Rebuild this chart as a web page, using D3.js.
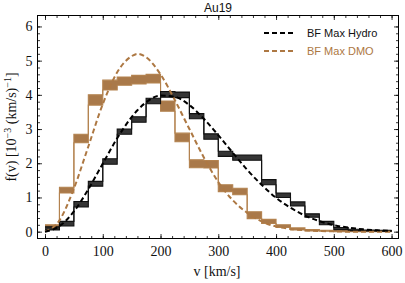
<!DOCTYPE html>
<html>
<head>
<meta charset="utf-8">
<script src="https://cdn.jsdelivr.net/npm/d3@7"></script>
<style>
  body { margin: 0; background: #fff; }
  svg { display: block; }
</style>
</head>
<body>
<div id="chart"></div>
<script>
// bin edges (km/s)
var binEdges = [0, 25, 50, 75, 100, 125, 150, 175, 200, 225, 250, 275, 300,
                325, 350, 375, 400, 425, 450, 475, 500, 525, 550, 575, 600];

// histogram bands, one value per bin, in 10^-3 (km/s)^-1
var hydroLo = [0.05, 0.17, 0.72, 1.33, 1.97, 2.85, 3.20, 3.74, 3.93, 3.92, 3.30, 2.70,
               2.20, 2.09, 2.09, 1.37, 1.00, 0.75, 0.42, 0.20, 0.06, 0.03, 0.02, 0.01];
var hydroHi = [0.14, 0.30, 0.88, 1.47, 2.13, 3.00, 3.36, 3.90, 4.10, 4.08, 3.45, 2.86,
               2.35, 2.24, 2.24, 1.52, 1.13, 0.87, 0.52, 0.30, 0.12, 0.07, 0.05, 0.04];
var dmoLo   = [0.08, 1.13, 2.60, 3.70, 4.14, 4.28, 4.32, 4.35, 3.52, 2.63, 1.87, 1.86,
               1.17, 1.08, 0.38, 0.24, 0.12, 0.05, 0.02, 0.01, 0.00, 0.00, 0.00, 0.00];
var dmoHi   = [0.20, 1.30, 2.85, 4.00, 4.43, 4.52, 4.57, 4.60, 3.82, 2.88, 2.10, 2.08,
               1.37, 1.27, 0.58, 0.36, 0.20, 0.11, 0.06, 0.04, 0.03, 0.03, 0.03, 0.03];

// best-fit curves
var fitV     = [0, 25, 50, 75, 100, 125, 150, 160, 175, 200, 225, 250, 275, 300, 325,
                350, 375, 400, 425, 450, 475, 500, 525, 550, 575, 600];
var hydroFit = [0, 0.16, 0.59, 1.24, 1.99, 2.73, 3.35, 3.55, 3.78, 3.98, 3.94, 3.70, 3.30,
                2.82, 2.31, 1.81, 1.37, 0.99, 0.70, 0.47, 0.31, 0.19, 0.12, 0.07, 0.04, 0.02];
var dmoFit   = [0, 0.33, 1.26, 2.49, 3.73, 4.66, 5.13, 5.20, 5.10, 4.60, 3.84, 3.00, 2.17,
                1.45, 0.92, 0.55, 0.30, 0.15, 0.08, 0.04, 0.02, 0.01, 0.0, 0.0, 0.0, 0.0];

var legendLabels = ["BF Max Hydro", "BF Max DMO"];
var xTicks = [0, 100, 200, 300, 400, 500, 600];
var yTicks = [0, 1, 2, 3, 4, 5, 6];

var width = 405, height = 283;
var brown = "#ad7843";

var svg = d3.select("#chart").append("svg")
    .attr("width", width)
    .attr("height", height);

var x = d3.scaleLinear().domain([-13, 612]).range([37.5, 398.5]);
var y = d3.scaleLinear().domain([-0.2, 6.32]).range([238.5, 15.5]);

var plot = svg.append("g");

// clip to frame
svg.append("clipPath").attr("id", "clip")
    .append("rect")
    .attr("x", x.range()[0]).attr("y", y.range()[1])
    .attr("width", x.range()[1] - x.range()[0])
    .attr("height", y.range()[0] - y.range()[1]);
plot.attr("clip-path", "url(#clip)");

function stepData(vals) {
    var d = vals.map(function(v, i) { return [binEdges[i], v]; });
    d.push([binEdges[binEdges.length - 1], vals[vals.length - 1]]);
    return d;
}

function drawBand(lo, hi, fill, stroke, fillOpacity) {
    var lod = stepData(lo), hid = stepData(hi);
    var area = d3.area()
        .curve(d3.curveStepAfter)
        .x(function(d) { return x(d[0]); })
        .y0(function(d, i) { return y(lod[i][1]); })
        .y1(function(d) { return y(d[1]); });
    plot.append("path")
        .attr("d", area(hid))
        .attr("fill", fill)
        .attr("fill-opacity", fillOpacity)
        .attr("stroke", "none");
    var line = d3.line()
        .curve(d3.curveStepAfter)
        .x(function(d) { return x(d[0]); })
        .y(function(d) { return y(d[1]); });
    [lod, hid].forEach(function(dd) {
        plot.append("path")
            .attr("d", line(dd))
            .attr("fill", "none")
            .attr("stroke", stroke)
            .attr("stroke-width", 1.1);
    });
}

drawBand(dmoLo, dmoHi, "#a06a36", "#b3824f", 0.9);
drawBand(hydroLo, hydroHi, "#2a2a2a", "#111", 0.95);

var fitLine = d3.line()
    .curve(d3.curveMonotoneX)
    .x(function(d) { return x(d[0]); })
    .y(function(d) { return y(d[1]); });

plot.append("path")
    .attr("d", fitLine(fitV.map(function(v, i) { return [v, dmoFit[i]]; })))
    .attr("fill", "none")
    .attr("stroke", brown)
    .attr("stroke-width", 2)
    .attr("stroke-dasharray", "5,3");

plot.append("path")
    .attr("d", fitLine(fitV.map(function(v, i) { return [v, hydroFit[i]]; })))
    .attr("fill", "none")
    .attr("stroke", "#000")
    .attr("stroke-width", 2)
    .attr("stroke-dasharray", "5,3");

// frame + ticks on all sides
var frame = svg.append("g");
frame.append("rect")
    .attr("x", x.range()[0]).attr("y", y.range()[1])
    .attr("width", x.range()[1] - x.range()[0])
    .attr("height", y.range()[0] - y.range()[1])
    .attr("fill", "none")
    .attr("stroke", "#000")
    .attr("stroke-width", 1);

var serif = "'Liberation Serif', 'Times New Roman', serif";
var sans = "'Liberation Sans', Arial, sans-serif";

function styleAxis(g) {
    g.select(".domain").remove();
    g.selectAll(".tick line").attr("stroke", "#000").attr("stroke-width", 0.8);
    g.selectAll("text").attr("font-family", serif).attr("font-size", 14).attr("fill", "#111");
}

var xMinor = d3.range(0, 601, 20);
var yMinor = d3.range(0, 6.01, 0.2);

// bottom
svg.append("g").attr("transform", "translate(0," + y.range()[0] + ")")
    .call(d3.axisBottom(x).tickValues(xMinor).tickSize(-2.5).tickFormat(""))
    .call(styleAxis);
svg.append("g").attr("transform", "translate(0," + y.range()[0] + ")")
    .call(d3.axisBottom(x).tickValues(xTicks).tickSize(-4.5).tickPadding(8).tickFormat(d3.format("d")))
    .call(styleAxis);
// top
svg.append("g").attr("transform", "translate(0," + y.range()[1] + ")")
    .call(d3.axisTop(x).tickValues(xMinor).tickSize(-2.5).tickFormat(""))
    .call(styleAxis);
svg.append("g").attr("transform", "translate(0," + y.range()[1] + ")")
    .call(d3.axisTop(x).tickValues(xTicks).tickSize(-4.5).tickFormat(""))
    .call(styleAxis);
// left
svg.append("g").attr("transform", "translate(" + x.range()[0] + ",0)")
    .call(d3.axisLeft(y).tickValues(yMinor).tickSize(-2.5).tickFormat(""))
    .call(styleAxis);
svg.append("g").attr("transform", "translate(" + x.range()[0] + ",0)")
    .call(d3.axisLeft(y).tickValues(yTicks).tickSize(-4.5).tickPadding(5).tickFormat(d3.format("d")))
    .call(styleAxis);
// right
svg.append("g").attr("transform", "translate(" + x.range()[1] + ",0)")
    .call(d3.axisRight(y).tickValues(yMinor).tickSize(-2.5).tickFormat(""))
    .call(styleAxis);
svg.append("g").attr("transform", "translate(" + x.range()[1] + ",0)")
    .call(d3.axisRight(y).tickValues(yTicks).tickSize(-4.5).tickFormat(""))
    .call(styleAxis);

// title
svg.append("text")
    .attr("x", (x.range()[0] + x.range()[1]) / 2)
    .attr("y", 11.5)
    .attr("text-anchor", "middle")
    .attr("font-family", sans)
    .attr("font-size", 12)
    .attr("fill", "#111")
    .text("Au19");

// axis labels
svg.append("text")
    .attr("x", 217)
    .attr("y", 276)
    .attr("text-anchor", "middle")
    .attr("font-family", serif)
    .attr("font-size", 14)
    .attr("fill", "#111")
    .text("v [km/s]");

var yl = svg.append("text")
    .attr("transform", "translate(16," + ((y.range()[0] + y.range()[1]) / 2) + ") rotate(-90)")
    .attr("text-anchor", "middle")
    .attr("font-family", serif)
    .attr("font-size", 14)
    .attr("fill", "#111");
yl.append("tspan").text("f(v) [10");
yl.append("tspan").attr("dy", -5).attr("font-size", 10).text("\u22123");
yl.append("tspan").attr("dy", 5).text(" (km/s)");
yl.append("tspan").attr("dy", -5).attr("font-size", 10).text("\u22121");
yl.append("tspan").attr("dy", 5).text("]");

// legend
var legendColors = ["#000", brown];
var legend = svg.append("g");
legendLabels.forEach(function(lab, i) {
    var ly = 33 + i * 18;
    legend.append("line")
        .attr("x1", 264).attr("x2", 296)
        .attr("y1", ly).attr("y2", ly)
        .attr("stroke", legendColors[i])
        .attr("stroke-width", 2)
        .attr("stroke-dasharray", "5,3");
    legend.append("text")
        .attr("x", 307)
        .attr("y", ly + 4)
        .attr("font-family", sans)
        .attr("font-size", 11)
        .attr("fill", i === 0 ? "#111" : brown)
        .text(lab);
});
</script>
</body>
</html>
